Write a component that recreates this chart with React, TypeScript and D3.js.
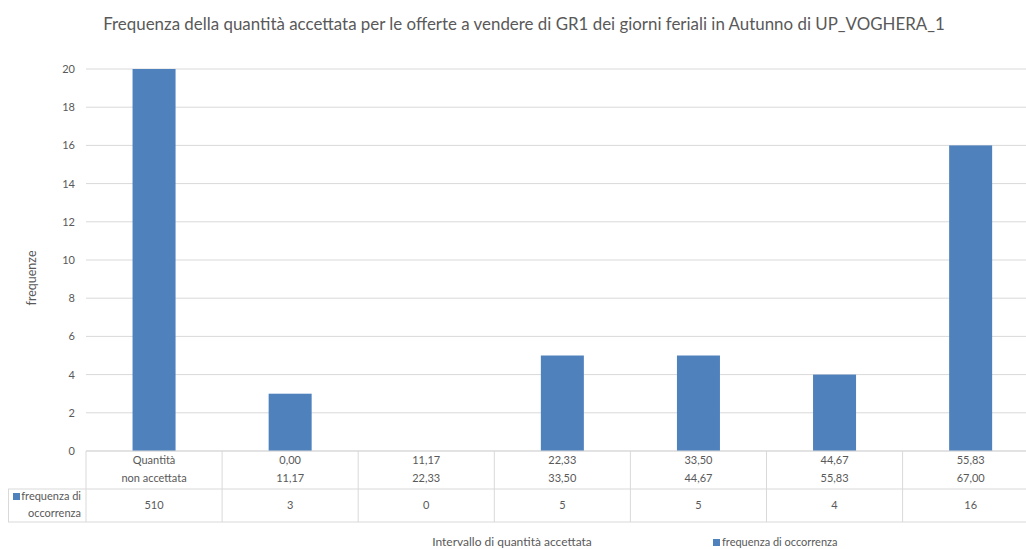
import { scaleBand, scaleLinear } from 'd3'

const title = 'Frequenza della quantità accettata per le offerte a vendere di GR1 dei giorni feriali in Autunno di UP_VOGHERA_1'
const rowTop = ['Quantità', '0,00', '11,17', '22,33', '33,50', '44,67', '55,83']
const rowBottom = ['non accettata', '11,17', '22,33', '33,50', '44,67', '55,83', '67,00']
const frequencies = [510, 3, 0, 5, 5, 4, 16]
const yTicks = [0, 2, 4, 6, 8, 10, 12, 14, 16, 18, 20]
const seriesName = 'frequenza di occorrenza'

const App = () => {
    let width = 1026
    let height = 549
    let plotLeft = 86
    let plotTop = 69
    let plotBottom = 451
    let step = 136.1
    let blue = '#4F81BD'
    let grid = '#D9D9D9'
    let text = '#595959'
    let font = 'Lato, "Open Sans", sans-serif'

    let cats = frequencies.map((_, i) => String(i))

    let xScale = scaleBand()
        .domain(cats)
        .range([plotLeft, plotLeft + step * cats.length])
        .paddingInner(0.684)
        .paddingOuter(0.342)

    let yScale = scaleLinear().domain([0, 20]).range([plotBottom, plotTop])

    let row1 = 489
    let row2 = 522

    return (
        <svg width={width} height={height} style={{ position: 'absolute', left: 0, top: 0, fontFamily: font }}>
            <rect width={width} height={height} fill="#fff" />
            <text x={524} y={30} textAnchor="middle" fontSize={16.9} fill={text}>{title}</text>

            {yTicks.map(t => (
                <g key={t}>
                    <line x1={plotLeft} x2={width} y1={yScale(t)} y2={yScale(t)} stroke={grid} strokeWidth={1} />
                    <text x={75} y={yScale(t) + 4} textAnchor="end" fontSize={11} fill={text}>{t}</text>
                </g>
            ))}

            <text transform={`translate(36,278) rotate(-90)`} textAnchor="middle" fontSize={12.5} fill={text}>frequenze</text>

            <clipPath id="plot-clip">
                <rect x={plotLeft} y={plotTop} width={width - plotLeft} height={plotBottom - plotTop} />
            </clipPath>
            <g clipPath="url(#plot-clip)">
                {frequencies.map((d, i) => (
                    <rect key={i}
                        x={xScale(cats[i])}
                        y={yScale(d)}
                        width={xScale.bandwidth()}
                        height={plotBottom - yScale(d)}
                        fill={blue} />
                ))}
            </g>

            {/* data table */}
            <line x1={plotLeft} x2={width} y1={plotBottom} y2={plotBottom} stroke={grid} />
            <line x1={8} x2={width} y1={row1} y2={row1} stroke={grid} />
            <line x1={8} x2={width} y1={row2} y2={row2} stroke={grid} />
            <line x1={8.5} x2={8.5} y1={row1} y2={row2} stroke={grid} />
            {cats.map((c, i) => {
                let x0 = plotLeft + i * step
                let cx = x0 + step / 2
                return (
                    <g key={c}>
                        <line x1={x0} x2={x0} y1={plotBottom} y2={row2} stroke={grid} />
                        <text x={cx} y={464} textAnchor="middle" fontSize={11} fill={text}>{rowTop[i]}</text>
                        <text x={cx} y={482} textAnchor="middle" fontSize={11} fill={text}>{rowBottom[i]}</text>
                        <text x={cx} y={509} textAnchor="middle" fontSize={11} fill={text}>{frequencies[i]}</text>
                    </g>
                )
            })}
            <rect x={13} y={493} width={7} height={7} fill={blue} />
            <text x={81} y={500} textAnchor="end" fontSize={11} fill={text}>frequenza di</text>
            <text x={81} y={517} textAnchor="end" fontSize={11} fill={text}>occorrenza</text>

            <text x={512} y={546} textAnchor="middle" fontSize={12} fill={text}>Intervallo di quantità accettata</text>
            <rect x={713} y={539} width={7} height={7} fill={blue} />
            <text x={722} y={546} fontSize={11} fill={text}>{seriesName}</text>
        </svg>
    )
}

export default App
